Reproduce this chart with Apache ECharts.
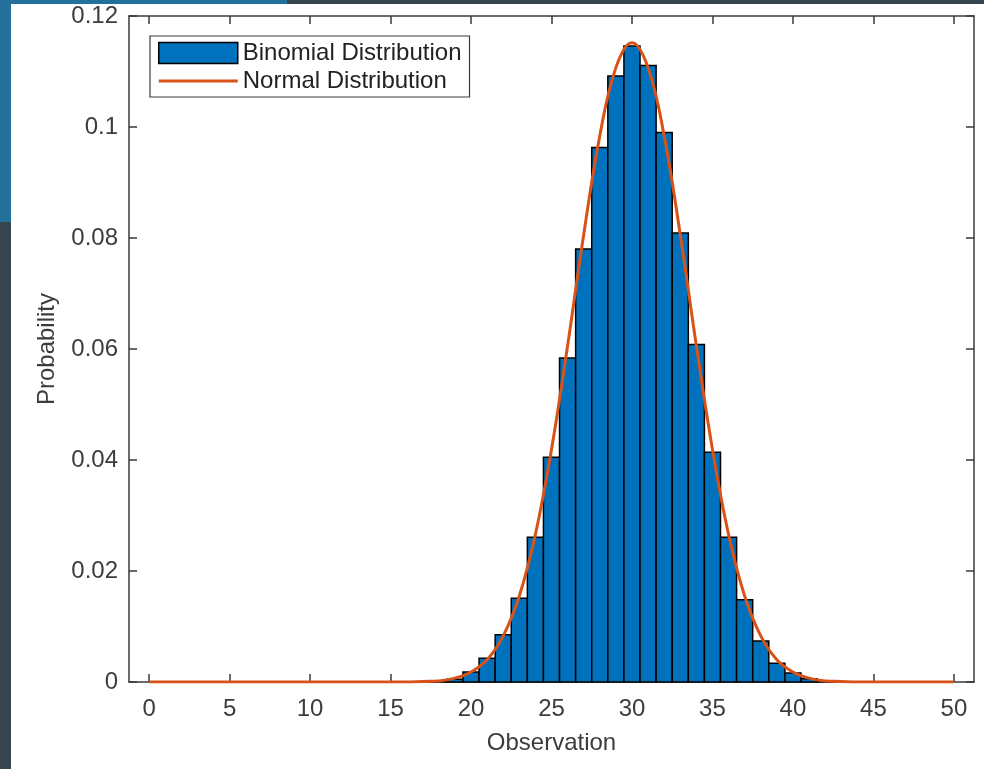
<!DOCTYPE html>
<html>
<head>
<meta charset="utf-8">
<script src="https://cdn.jsdelivr.net/npm/echarts@6/dist/echarts.min.js"></script>
<style>
html,body{margin:0;padding:0;background:#35464f;}
#chart{width:984px;height:769px;}
</style>
</head>
<body>
<div id="chart"></div>
<script>
// ---- data ----
var observations = [];
for (var i = 0; i <= 50; i++) observations.push(i);
var binomialProb = [
  0,0,0,0,0,0,0,0,0,0,          // 0-9
  0,0,0,0,0,0,0,0,0.0001,0.0005, // 10-19
  0.0018,0.0043,0.0085,0.0151,0.0261,0.0405,0.0584,0.0780,0.0963,0.1092, // 20-29
  0.1146,0.1111,0.0990,0.0809,0.0608,0.0414,0.0261,0.0148,0.0074,0.0034, // 30-39
  0.0016,0.0006,0.0002,0,0,0,0,0,0,0,  // 40-49
  0                                // 50
];
var normalProb = [
  0,0,0,0,0,0,0,0,0,0,
  0,0,0,0,0,0,0,0.0001,0.0002,0.0007,
  0.0018,0.0040,0.0083,0.0155,0.0266,0.0419,0.0606,0.0806,0.0984,0.1107,
  0.1152,0.1107,0.0984,0.0806,0.0606,0.0419,0.0266,0.0155,0.0083,0.0040,
  0.0018,0.0007,0.0002,0.0001,0,0,0,0,0,0,
  0
];
var xTicks = [0,5,10,15,20,25,30,35,40,45,50];
var yTicks = [0,0.02,0.04,0.06,0.08,0.1,0.12];
var seriesNames = ['Binomial Distribution','Normal Distribution'];
var xLabel = 'Observation';
var yLabel = 'Probability';

// ---- build ----
var barData = observations.map(function(x, i){ return [x, binomialProb[i]]; });
var lineData = observations.map(function(x, i){ return [x, normalProb[i]]; });

var axisColor = '#3a3a3a';
var labelColor = '#3c3c3c';
var fontFam = '"Liberation Sans", Arial, Helvetica, sans-serif';
var fs = 24;

var chart = echarts.init(document.getElementById('chart'), null, {renderer:'canvas'});
chart.setOption({
  backgroundColor: '#35464f',
  animation: false,
  graphic: {
    elements: [
      {type:'rect', z:-10, shape:{x:0,y:0,width:287,height:222}, style:{fill:'#23709a'}},
      {type:'rect', z:-9, shape:{x:11,y:4,width:973,height:765}, style:{fill:'#ffffff'}}
    ]
  },
  grid: {left:129, right:10, top:16, bottom:87, containLabel:false},
  legend: {
    orient:'vertical', left:150, top:36,
    padding:[5,8,4,8],
    itemGap:4, itemWidth:79, itemHeight:21,
    borderColor:'#3a3a3a', borderWidth:1.2, backgroundColor:'#fff',
    textStyle:{fontFamily:fontFam, fontSize:fs, color:'#222', lineHeight:21, height:21},
    data:[
      {name:seriesNames[0], icon:'rect', itemStyle:{color:'#0072BD', borderColor:'#000', borderWidth:1.5}},
      {name:seriesNames[1],
       icon:'path://M0,0 L79,0 L79,0.01 L0,0.01 Z M0,9 L79,9 L79,12 L0,12 Z M0,21 L79,21 L79,21.01 L0,21.01 Z',
       itemStyle:{color:'#D95319', borderWidth:0}}
    ]
  },
  xAxis: [{
    type:'value', min:-1.25, max:51.25, position:'bottom',
    name:xLabel, nameLocation:'middle', nameGap:49,
    nameTextStyle:{fontFamily:fontFam, fontSize:fs, color:labelColor},
    axisLine:{show:true, onZero:false, lineStyle:{color:axisColor, width:1.5}},
    axisTick:{show:true, inside:true, length:8, customValues:xTicks, lineStyle:{color:axisColor, width:1.5}},
    axisLabel:{customValues:xTicks, margin:15, fontFamily:fontFam, fontSize:fs, color:labelColor},
    splitLine:{show:false}
  },{
    type:'value', min:-1.25, max:51.25, position:'top',
    axisLine:{show:true, onZero:false, lineStyle:{color:axisColor, width:1.5}},
    axisTick:{show:true, inside:true, length:8, customValues:xTicks, lineStyle:{color:axisColor, width:1.5}},
    axisLabel:{show:false}, splitLine:{show:false}
  }],
  yAxis: [{
    type:'value', min:0, max:0.12, interval:0.02, position:'left',
    name:yLabel, nameLocation:'middle', nameGap:70, nameRotate:90,
    nameTextStyle:{fontFamily:fontFam, fontSize:fs, color:labelColor},
    axisLine:{show:true, onZero:false, lineStyle:{color:axisColor, width:1.5}},
    axisTick:{show:true, inside:true, length:8, lineStyle:{color:axisColor, width:1.5}},
    axisLabel:{margin:11, fontFamily:fontFam, fontSize:fs, color:labelColor},
    splitLine:{show:false}
  },{
    type:'value', min:0, max:0.12, interval:0.02, position:'right',
    axisLine:{show:true, onZero:false, lineStyle:{color:axisColor, width:1.5}},
    axisTick:{show:true, inside:true, length:8, lineStyle:{color:axisColor, width:1.5}},
    axisLabel:{show:false}, splitLine:{show:false}
  }],
  series: [{
    name:seriesNames[0], type:'custom', xAxisIndex:0, yAxisIndex:0,
    encode:{x:0, y:1},
    itemStyle:{color:'#0072BD'},
    data:barData,
    renderItem:function(params, api){
      var x = api.value(0), y = api.value(1);
      if (!(y > 0)) return null;
      var p0 = api.coord([x - 0.5, y]);
      var p1 = api.coord([x + 0.5, 0]);
      return {type:'rect',
        shape:{x:p0[0], y:p0[1], width:p1[0]-p0[0], height:p1[1]-p0[1]},
        style:{fill:'#0072BD', stroke:'#000', lineWidth:1.5}};
    }
  },{
    name:seriesNames[1], type:'line', xAxisIndex:0, yAxisIndex:0,
    data:lineData, smooth:0.4, symbol:'none', showSymbol:false, z:5,
    lineStyle:{color:'#D95319', width:3},
    itemStyle:{color:'#D95319'}
  }]
});
</script>
</body>
</html>
